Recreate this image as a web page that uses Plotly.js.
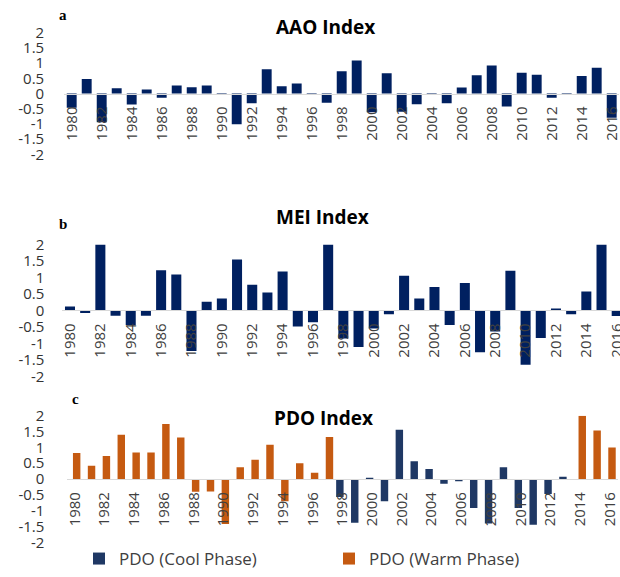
<!DOCTYPE html>
<html>
<head>
<meta charset="utf-8">
<script src="https://cdn.plot.ly/plotly-3.0.1.min.js"></script>
<style>
  html, body { margin: 0; padding: 0; overflow: hidden; background: #fff; }
  #chart { width: 630px; height: 577px; }
</style>
</head>
<body>
<div id="chart"></div>
<script>
// ---- Data ----
const years = [1980,1981,1982,1983,1984,1985,1986,1987,1988,1989,1990,1991,1992,1993,1994,1995,1996,1997,1998,1999,2000,2001,2002,2003,2004,2005,2006,2007,2008,2009,2010,2011,2012,2013,2014,2015,2016];

const aao = [-0.47,0.48,-0.95,0.17,-0.36,0.13,-0.14,0.26,0.21,0.26,0.02,-1.01,-0.32,0.80,0.24,0.33,0.02,-0.30,0.73,1.09,-0.62,0.67,-0.60,-0.35,0.02,-0.32,0.20,0.60,0.92,-0.43,0.68,0.62,-0.14,-0.02,0.58,0.85,-0.80];

const mei = [0.12,-0.08,2.0,-0.16,-0.44,-0.16,1.22,1.09,-1.23,0.26,0.36,1.54,0.78,0.54,1.18,-0.49,-0.36,2.0,-0.85,-1.11,-0.55,-0.12,1.05,0.36,0.71,-0.44,0.83,-1.27,-0.64,1.20,-1.65,-0.84,0.06,-0.12,0.57,2.0,-0.17];

// PDO split by phase (null where the other phase applies)
const pdoWarm = [0.82,0.42,0.73,1.40,0.84,0.84,1.74,1.31,-0.40,-0.39,-1.42,0.37,0.61,1.08,-0.70,0.50,0.20,1.33,null,null,null,null,null,null,null,null,null,null,null,null,null,null,null,null,2.0,1.53,1.00];
const pdoCool = [null,null,null,null,null,null,null,null,null,null,null,null,null,null,null,null,null,null,-0.57,-1.38,0.04,-0.70,1.56,0.56,0.32,-0.15,-0.07,-0.91,-1.40,0.37,-0.91,-1.44,-0.47,0.07,null,null,null];

const yTickVals = [-2,-1.5,-1,-0.5,0,0.5,1,1.5,2];
const yTickText = ['-2','-1.5','-1','-0.5','0','0.5','1','1.5','2'];
const xTickVals = [1980,1982,1984,1986,1988,1990,1992,1994,1996,1998,2000,2002,2004,2006,2008,2010,2012,2014,2016];

const panelTitles = ['AAO Index','MEI Index','PDO Index'];
const panelLetters = ['a','b','c'];
const legendNames = ['PDO (Cool Phase)','PDO (Warm Phase)'];

// ---- Styling ----
const W = 630, H = 577;
const navy = '#002060';
const coolBlue = '#1f3864';
const warmOrange = '#c55a11';
const FONT = '"Open Sans", "DejaVu Sans", sans-serif';

function px2fx(p){ return p / W; }
function py2fy(p){ return 1 - p / H; }

// pixel geometry of each panel: [left, right] for x, [top, bottom] for y
const panels = [
  {x: [64.2, 619.2], y: [33.3, 156.7], ticklen: 16},
  {x: [62.4, 624.3], y: [248.3, 382.3], ticklen: 14},
  {x: [67.3, 617.5], y: [422.3, 551.0], ticklen: 19}
];

const traces = [
  {type:'bar', x: years, y: aao, xaxis:'x', yaxis:'y', marker:{color: navy}, width: 0.66, showlegend:false, hoverinfo:'x+y'},
  {type:'bar', x: years, y: mei, xaxis:'x2', yaxis:'y2', marker:{color: navy}, width: 0.66, showlegend:false, hoverinfo:'x+y'},
  {type:'bar', x: years, y: pdoCool, name: legendNames[0], xaxis:'x3', yaxis:'y3', marker:{color: coolBlue}, width: 0.5, offset: -0.42, legend:'legend'},
  {type:'bar', x: years, y: pdoWarm, name: legendNames[1], xaxis:'x3', yaxis:'y3', marker:{color: warmOrange}, width: 0.5, offset: -0.12, legend:'legend2'}
];

const layout = {
  width: W, height: H,
  margin: {l:0, r:0, t:0, b:0},
  paper_bgcolor: '#fff', plot_bgcolor: 'rgba(0,0,0,0)',
  barmode: 'overlay',
  font: {family: FONT, color: '#404040'},
  annotations: [],
  legend: {x: px2fx(79), y: py2fy(568), xanchor:'left', yanchor:'middle', orientation:'h',
           font:{family: FONT, size: 17, color:'#404040'}, bgcolor:'rgba(0,0,0,0)'},
  legend2: {x: px2fx(329), y: py2fy(568), xanchor:'left', yanchor:'middle', orientation:'h',
           font:{family: FONT, size: 17, color:'#404040'}, bgcolor:'rgba(0,0,0,0)'}
};

const titlePos = [[325, 27], [322, 220], [324, 425]];
const letterPos = [[63, 15], [63, 228], [75, 405]];

panels.forEach((p, i) => {
  const sfx = i === 0 ? '' : String(i + 1);
  const yd = [py2fy(p.y[1]), py2fy(p.y[0])];
  const zeroPx = (p.y[0] + p.y[1]) / 2;
  layout['xaxis' + sfx] = {
    domain: [px2fx(p.x[0]), px2fx(p.x[1])],
    range: [1979.5, 2016.5],
    anchor: 'free',
    position: py2fy(zeroPx),
    tickmode: 'array', tickvals: xTickVals, ticktext: xTickVals.map(String),
    tickangle: -90,
    ticks: 'outside', ticklen: 6, tickcolor: 'rgba(0,0,0,0)',
    tickfont: {family: FONT, size: 15, color: '#404040'},
    showline: true, linecolor: '#d9d9d9', linewidth: 1,
    showgrid: false, zeroline: false, fixedrange: true
  };
  layout['yaxis' + sfx] = {
    domain: yd,
    range: [-2, 2],
    anchor: 'x' + sfx,
    tickmode: 'array', tickvals: yTickVals, ticktext: yTickText,
    ticks: 'outside', ticklen: p.ticklen, tickcolor: 'rgba(0,0,0,0)',
    tickfont: {family: FONT, size: 15, color: '#333333'},
    showline: false, showgrid: false, zeroline: false, fixedrange: true
  };
  layout.annotations.push({
    text: '<b>' + panelTitles[i] + '</b>', xref:'paper', yref:'paper',
    x: px2fx(titlePos[i][0]), y: py2fy(titlePos[i][1]), xanchor:'center', yanchor:'middle',
    showarrow:false, font:{family: FONT, size: 19, color:'#000'}
  });
  layout.annotations.push({
    text: '<b>' + panelLetters[i] + '</b>', xref:'paper', yref:'paper',
    x: px2fx(letterPos[i][0]), y: py2fy(letterPos[i][1]), xanchor:'center', yanchor:'middle',
    showarrow:false, font:{family: '"Liberation Serif", "DejaVu Serif", serif', size: 15, color:'#000'}
  });
});

Plotly.newPlot('chart', traces, layout, {staticPlot: true, displayModeBar: false});
</script>
</body>
</html>
